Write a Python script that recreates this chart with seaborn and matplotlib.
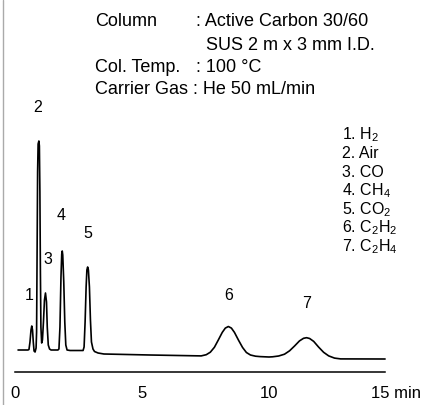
import matplotlib
matplotlib.use("Agg")
import matplotlib.pyplot as plt
from matplotlib.lines import Line2D
import pandas as pd
import seaborn as sns

# trace (time in min, detector signal in arbitrary units)
time_min = [0.12, 0.51, 0.55, 0.59, 0.63, 0.66, 0.69, 0.72, 0.75, 0.79,
            0.83, 0.85, 0.87, 0.89, 0.91, 0.94, 0.96, 0.98, 1.00, 1.02,
            1.05, 1.08, 1.12, 1.16, 1.20, 1.24, 1.27, 1.31, 1.36, 1.42,
            1.69, 1.73, 1.77, 1.81, 1.84, 1.86, 1.88, 1.92, 1.96, 2.00,
            2.05, 2.17, 2.68, 2.72, 2.76, 2.80, 2.83, 2.86, 2.89, 2.93,
            2.97, 3.01, 3.07, 3.13, 3.27, 3.50, 5.31, 7.09,
            7.33, 7.53, 7.69, 7.85, 8.00, 8.16, 8.28, 8.40, 8.52, 8.64,
            8.80, 8.96, 9.11, 9.27, 9.47, 9.65, 10.00,
            10.14, 10.38, 10.61, 10.81, 11.01, 11.20, 11.36, 11.48, 11.60, 11.76,
            11.95, 12.15, 12.35, 12.58, 12.82, 14.57]
signal = [22, 22, 22.5, 30, 42, 46, 42, 30, 21, 20,
          24, 40, 120, 200, 228, 231, 226, 180, 100, 45,
          29, 32, 50, 72, 79, 70, 45, 27, 23, 22,
          22, 23, 45, 95, 118, 121, 117, 90, 50, 27,
          22, 21.5, 21.5, 25, 50, 85, 102, 105, 102, 85,
          52, 30, 23, 20.5, 19, 18, 17, 16.2,
          16.1, 17.3, 19.8, 24.7, 31.8, 39.6, 43.9, 45.5, 43.9, 39.6,
          31.8, 24.5, 19.5, 17.0, 15.8, 15.4, 15.0,
          15.2, 16.0, 17.8, 21.2, 26.1, 31.1, 33.7, 34.3, 33.5, 30.6,
          25.0, 19.7, 16.1, 13.9, 13.1, 13.0]

# peak numbers and where they sit
peak_ids = ["1", "2", "3", "4", "5", "6", "7"]
peak_label_t = [0.57, 0.91, 1.28, 1.83, 2.87, 8.43, 11.48]
peak_label_s = [76, 264, 113, 156, 138, 76, 68]

compounds = ["1. H$_\\mathregular{2}$", "2. Air", "3. CO", "4. CH$_\\mathregular{4}$",
             "5. CO$_\\mathregular{2}$", "6. C$_\\mathregular{2}$H$_\\mathregular{2}$",
             "7. C$_\\mathregular{2}$H$_\\mathregular{4}$"]

cond_names = ["Column", "", "Col. Temp."]
cond_values = [": Active Carbon 30/60", "  SUS 2 m x 3 mm I.D.", ": 100 °C"]
carrier_line = "Carrier Gas : He 50 mL/min"

x_ticks = [0, 5, 10, 15]
x_ticklabels = ["0", "5", "10", "15 min"]

sns.set_theme(style="white")
plt.rcParams['font.family'] = ['Liberation Sans', 'DejaVu Sans']
plt.rcParams['mathtext.fontset'] = 'custom'
plt.rcParams['mathtext.rm'] = 'Liberation Sans'
plt.rcParams['text.color'] = 'black'
plt.rcParams['xtick.color'] = 'black'
plt.rcParams['axes.edgecolor'] = 'black'

W, H = 426, 405
fig = plt.figure(figsize=(W / 100, H / 100), dpi=100)
ax = fig.add_axes([15 / W, 33 / H, 381 / W, 1 - 33 / H])

df = pd.DataFrame({"t": time_min, "s": signal})
sns.lineplot(data=df, x="t", y="s", ax=ax, color="black", linewidth=1.2)

ax.set_xlim(0, 15)
ax.set_ylim(0, 372)
ax.set_yticks([])
ax.set_xlabel("")
ax.set_ylabel("")
sns.despine(ax=ax, left=True)
ax.spines['bottom'].set_bounds(0, 14.57)
ax.spines['bottom'].set_linewidth(1.1)

ax.set_xticks(x_ticks)
ax.set_xticklabels(x_ticklabels)
ax.tick_params(axis='x', direction='out', length=6, width=1.1, pad=4, labelsize=12)
ticks = ax.xaxis.get_major_ticks()
ticks[0].tick1line.set_visible(False)
ticks[-1].tick1line.set_visible(False)

for lab, t, s in zip(peak_ids, peak_label_t, peak_label_s):
    ax.text(t, s, lab, ha="center", va="center", fontsize=11.5)

for i, c in enumerate(compounds):
    fig.text(342 / W, 1 - (135 + 18.6 * i) / H, c, ha="left", va="center", fontsize=11.5)

cond_y = [22, 46, 68]
for name, val, y in zip(cond_names, cond_values, cond_y):
    if name:
        fig.text(95 / W, 1 - y / H, name, ha="left", va="center", fontsize=13)
    fig.text(196 / W, 1 - y / H, val, ha="left", va="center", fontsize=13)
fig.text(95 / W, 1 - 90 / H, carrier_line, ha="left", va="center", fontsize=13)

# grey frame edge on the left of the original crop
fig.add_artist(Line2D([2.5 / W, 2.5 / W], [0, 1], color="#aaaaaa", linewidth=1.0,
                      transform=fig.transFigure))

fig.savefig("out.png", dpi=100)
